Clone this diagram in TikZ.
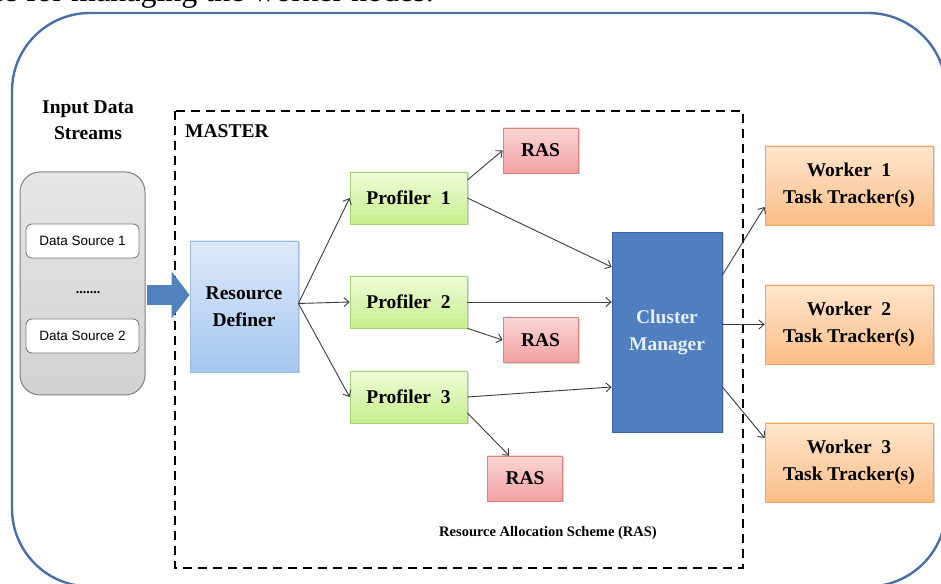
\documentclass[tikz,border=0pt]{standalone}
\usepackage{fontspec}
\setmainfont{Liberation Serif}
\setsansfont{Liberation Sans}
\usetikzlibrary{arrows.meta,calc,shadows}
\definecolor{outerblue}{HTML}{4A6FA5}
\definecolor{proftop}{HTML}{EFFCD9}
\definecolor{profbot}{HTML}{C6EF8C}
\definecolor{profline}{HTML}{A6D270}
\definecolor{rastop}{HTML}{FBD6D6}
\definecolor{rasbot}{HTML}{F2A0A0}
\definecolor{rasline}{HTML}{D98282}
\definecolor{wtop}{HTML}{FEE5CC}
\definecolor{wbot}{HTML}{FBBE88}
\definecolor{wline}{HTML}{F2A35E}
\definecolor{rdtop}{HTML}{DEEAFA}
\definecolor{rdbot}{HTML}{A6C6F0}
\definecolor{rdline}{HTML}{9BBBE0}
\definecolor{cmfill}{HTML}{4F7FBE}
\definecolor{cmline}{HTML}{3B64A0}
\definecolor{cmtext}{HTML}{E6EEF8}
\definecolor{graytop}{HTML}{E6E6E6}
\definecolor{graybot}{HTML}{D2D2D2}
\definecolor{grayline}{HTML}{7F7F7F}
\definecolor{linkgray}{HTML}{3A3A3A}
\definecolor{bigarrow}{HTML}{4F81BD}
\begin{document}
\begin{tikzpicture}[x=1pt,y=1pt,
  txt/.style={font=\fontsize{19.5}{27}\selectfont\bfseries, align=center},
  box/.style={txt, draw, line width=0.8pt, inner sep=0pt,
    drop shadow={shadow xshift=1.5pt, shadow yshift=-1.5pt, opacity=0.3}},
  prof/.style={box, minimum width=117pt, minimum height=52pt, draw=profline, top color=proftop, bottom color=profbot},
  ras/.style={box, minimum width=75pt, minimum height=45pt, draw=rasline, top color=rastop, bottom color=rasbot},
  worker/.style={box, minimum width=168pt, minimum height=79pt, draw=wline, top color=wtop, bottom color=wbot},
  src/.style={draw=grayline, line width=0.9pt, fill=white, rounded corners=6pt, minimum width=113pt, minimum height=34pt, inner sep=0pt, font=\sffamily\fontsize{13.5}{16}\selectfont},
  link/.style={draw=linkgray, line width=0.9pt, -{Straight Barb[length=5pt,width=9pt]}},
]
\useasboundingbox (0,0) rectangle (941,583);
\begin{scope}
  \clip (0,0) rectangle (941,583);
  \node[anchor=base east, inner sep=0pt, font=\fontsize{32}{36}\selectfont] (cap) at (434,581) {ce for managing the worker nodes.};
  \draw[outerblue, line width=2.4pt, rounded corners=78pt] (12,-3.5) rectangle (946,570);
\end{scope}

% master dashed frame
\draw[black, line width=2.4pt, dash pattern=on 9pt off 6pt] (175,472) rectangle (743,15);
\node[txt, anchor=west, inner sep=0pt] (master) at (185,452) {MASTER};
\node[font=\fontsize{14.5}{17}\selectfont\bfseries, inner sep=0pt] (raslabel) at (548,50) {Resource Allocation Scheme (RAS)};

% input data streams
\node[txt, font=\fontsize{19.5}{26}\selectfont\bfseries, inner sep=0pt] (inlabel) at (88,463) {Input Data\\Streams};
\node[draw=grayline, line width=1pt, rounded corners=20pt, top color=graytop, bottom color=graybot,
  minimum width=125pt, minimum height=223pt, inner sep=0pt] (gray) at (82.5,299.5) {};
\node[src] (ds1) at (82.5,342) {Data Source 1};
\node[src] (ds2) at (82.5,247) {Data Source 2};
\node[font=\bfseries\fontsize{14}{16}\selectfont, inner sep=0pt] (dots) at (88,290) {.......};

% resource definer
\node[box, minimum width=108pt, minimum height=131pt, draw=rdline, top color=rdtop, bottom color=rdbot] (rd) at (244,276.5) {Resource\\Definer};

% big arrow
\coordinate (ain) at ($(gray.east)+(1,-11.5)$);
\draw[bigarrow, line width=20pt, -{Triangle[width=46pt,length=18pt]}] (ain) -- (ain -| rd.west);

% profilers
\node[prof] (p1) at (408.5,385) {Profiler\ \ 1};
\node[prof] (p2) at (408.5,281) {Profiler\ \ 2};
\node[prof] (p3) at (408.5,186) {Profiler\ \ 3};

% RAS
\node[ras] (ras1) at (540.5,432.5) {RAS};
\node[ras] (ras2) at (540.5,243) {RAS};
\node[ras] (ras3) at (525,104.5) {RAS};

% cluster manager
\node[box, minimum width=110pt, minimum height=200pt, draw=cmline, fill=cmfill, text=cmtext] (cm) at (667,251) {Cluster\\Manager};

% workers
\node[worker] (w1) at (849,397.5) {Worker\ \ 1\\Task Tracker(s)};
\node[worker] (w2) at (849,258.5) {Worker\ \ 2\\Task Tracker(s)};
\node[worker] (w3) at (849,120.5) {Worker\ \ 3\\Task Tracker(s)};

% connectors
\draw[link] ($(rd.east)+(0,3)$) -- (p1.west);
\draw[link] ($(rd.east)+(0,3)$) -- (p2.west);
\draw[link] ($(rd.east)+(0,3)$) -- (p3.west);
\draw[link] ($(p1.east)+(0,18)$) -- (ras1.west);
\draw[link] (p1.east) -- ($(cm.west)+(0,65)$);
\draw[link] (p2.east) -- (p2.east -| cm.west);
\draw[link] (p2.south east) -- (ras2.west);
\draw[link] (p3.east) -- ($(cm.west)+(0,-55)$);
\draw[link] ($(p3.east)+(0,-16)$) -- ($(ras3.north west)+(22,0)$);
\draw[link] ($(cm.east)+(0,57)$) -- ($(w1.west)+(0,-21.5)$);
\draw[link] (cm.east |- w2.west) -- (w2.west);
\draw[link] ($(cm.east)+(0,-55)$) -- ($(w3.west)+(0,24.5)$);
\end{tikzpicture}
\end{document}
